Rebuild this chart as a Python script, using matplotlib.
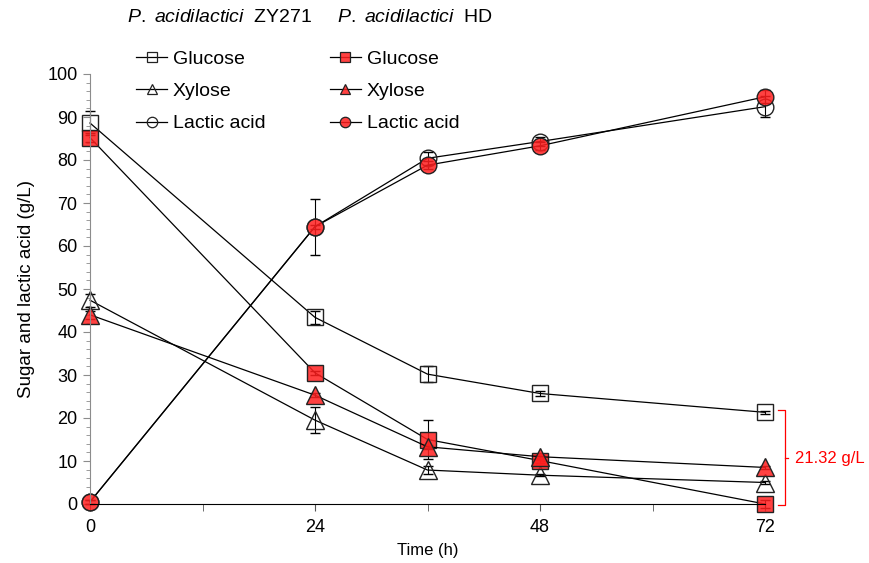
import numpy as np
import matplotlib
matplotlib.use("Agg")
import matplotlib.pyplot as plt
from matplotlib.lines import Line2D
from matplotlib.ticker import MultipleLocator

plt.rcParams['font.family'] = ['Liberation Sans', 'DejaVu Sans']
plt.rcParams['mathtext.fontset'] = 'custom'
plt.rcParams['mathtext.rm'] = 'Liberation Sans'
plt.rcParams['mathtext.it'] = 'Liberation Sans:italic'

# Sampling times (h)
time_h = [0, 24, 36, 48, 72]

# P. acidilactici ZY271 (open markers)
zy_glucose = [88.6, 43.4, 30.2, 25.7, 21.32]
zy_glucose_err = [2.9, 1.5, 1.8, 0.5, 0.3]
zy_xylose = [47.4, 19.5, 7.9, 6.7, 5.0]
zy_xylose_err = [1.5, 3.0, 1.0, 0.3, 0.3]
zy_lactic = [0.5, 64.5, 80.4, 84.3, 92.4]
zy_lactic_err = [0.5, 6.5, 1.5, 1.0, 2.5]

# P. acidilactici HD (red markers)
hd_glucose = [85.2, 30.5, 15.0, 10.1, 0.0]
hd_glucose_err = [1.0, 0.5, 4.5, 0.5, 1.0]
hd_xylose = [44.0, 25.3, 13.3, 11.0, 8.5]
hd_xylose_err = [1.0, 0.5, 0.5, 0.5, 0.3]
hd_lactic = [0.5, 64.5, 78.8, 83.3, 94.7]
hd_lactic_err = [0.5, 0.5, 1.0, 1.0, 1.5]

labels = ['Glucose', 'Xylose', 'Lactic acid']
markers = ['s', '^', 'o']
msizes = [12, 13, 12]
red_face = (1.0, 0.12, 0.12, 0.85)
edge = '#222222'

fig = plt.figure(figsize=(8.69, 5.63), dpi=100)
ax = fig.add_axes([90 / 869, 1 - 504 / 563, 675 / 869, 430 / 563])

zy_series = [(zy_glucose, zy_glucose_err), (zy_xylose, zy_xylose_err), (zy_lactic, zy_lactic_err)]
hd_series = [(hd_glucose, hd_glucose_err), (hd_xylose, hd_xylose_err), (hd_lactic, hd_lactic_err)]

def draw(series, face):
    for (vals, errs), m, ms in zip(series, markers, msizes):
        cont = ax.errorbar(time_h, vals, yerr=errs, marker=m, ms=ms, mfc=face, mec=edge,
                           mew=1.0, color='black', lw=0.9, ecolor='black', elinewidth=0.8,
                           capsize=3.5, capthick=0.8)
        for art in cont.get_children():
            art.set_clip_on(False)

draw(zy_series, 'none')
draw(hd_series, red_face)

ax.set_xlim(0, 72)
ax.set_ylim(0, 100)
ax.set_xticks([0, 24, 48, 72])
ax.xaxis.set_minor_locator(MultipleLocator(12))
ax.yaxis.set_major_locator(MultipleLocator(10))
ax.yaxis.set_minor_locator(MultipleLocator(2))

for side in ['top', 'right']:
    ax.spines[side].set_visible(False)
ax.spines['left'].set_color('#8c8c8c')
ax.spines['bottom'].set_color('black')
ax.tick_params(axis='y', which='major', length=5, color='#8c8c8c', labelsize=13, pad=4)
ax.tick_params(axis='y', which='minor', length=3, color='#8c8c8c')
ax.tick_params(axis='x', which='both', length=5, color='#555555', labelsize=13, pad=6)
ax.tick_params(axis='x', which='minor', labelbottom=False)

ax.set_xlabel('Time (h)', fontsize=12, labelpad=5)
ax.set_ylabel('Sugar and lactic acid (g/L)', fontsize=13.5, labelpad=9)

# Bracket showing the residual glucose difference at 72 h
top = zy_glucose[-1]
bottom = hd_glucose[-1]
bx, bl, br = 74.13, 73.39, 74.45
ax.plot([bl, bx, bx, bl], [top + 0.6, top + 0.6, bottom - 0.2, bottom - 0.2],
        color='red', lw=0.9, clip_on=False)
mid = (top + bottom) / 2
ax.plot([bx, br], [mid, mid], color='red', lw=0.9, clip_on=False)
ax.text(75.2, mid, f'{top - bottom:.2f} g/L', color='red', fontsize=12,
        va='center', ha='left', clip_on=False)

# Legend: two columns, one per strain
handles = []
for face in ['none', red_face]:
    for m in markers:
        handles.append(Line2D([], [], color='black', lw=0.9, marker=m, ms=7.5,
                              mfc=face, mec=edge, mew=0.9))
ax.legend(handles, labels + labels, ncol=2, frameon=False, loc='upper left',
          bbox_to_anchor=(136 / 869, 1 - 50 / 563), bbox_transform=fig.transFigure,
          fontsize=14, handlelength=1.6, handletextpad=0.3, columnspacing=3.3,
          labelspacing=0.76, borderpad=0, borderaxespad=0, numpoints=1)

fig.text(127 / 869, 1 - 18 / 563, r'$\mathit{P.\ acidilactici}$  ZY271', fontsize=14,
         va='center', ha='left')
fig.text(337 / 869, 1 - 18 / 563, r'$\mathit{P.\ acidilactici}$  HD', fontsize=14,
         va='center', ha='left')

fig.savefig('out.png', dpi=100)
